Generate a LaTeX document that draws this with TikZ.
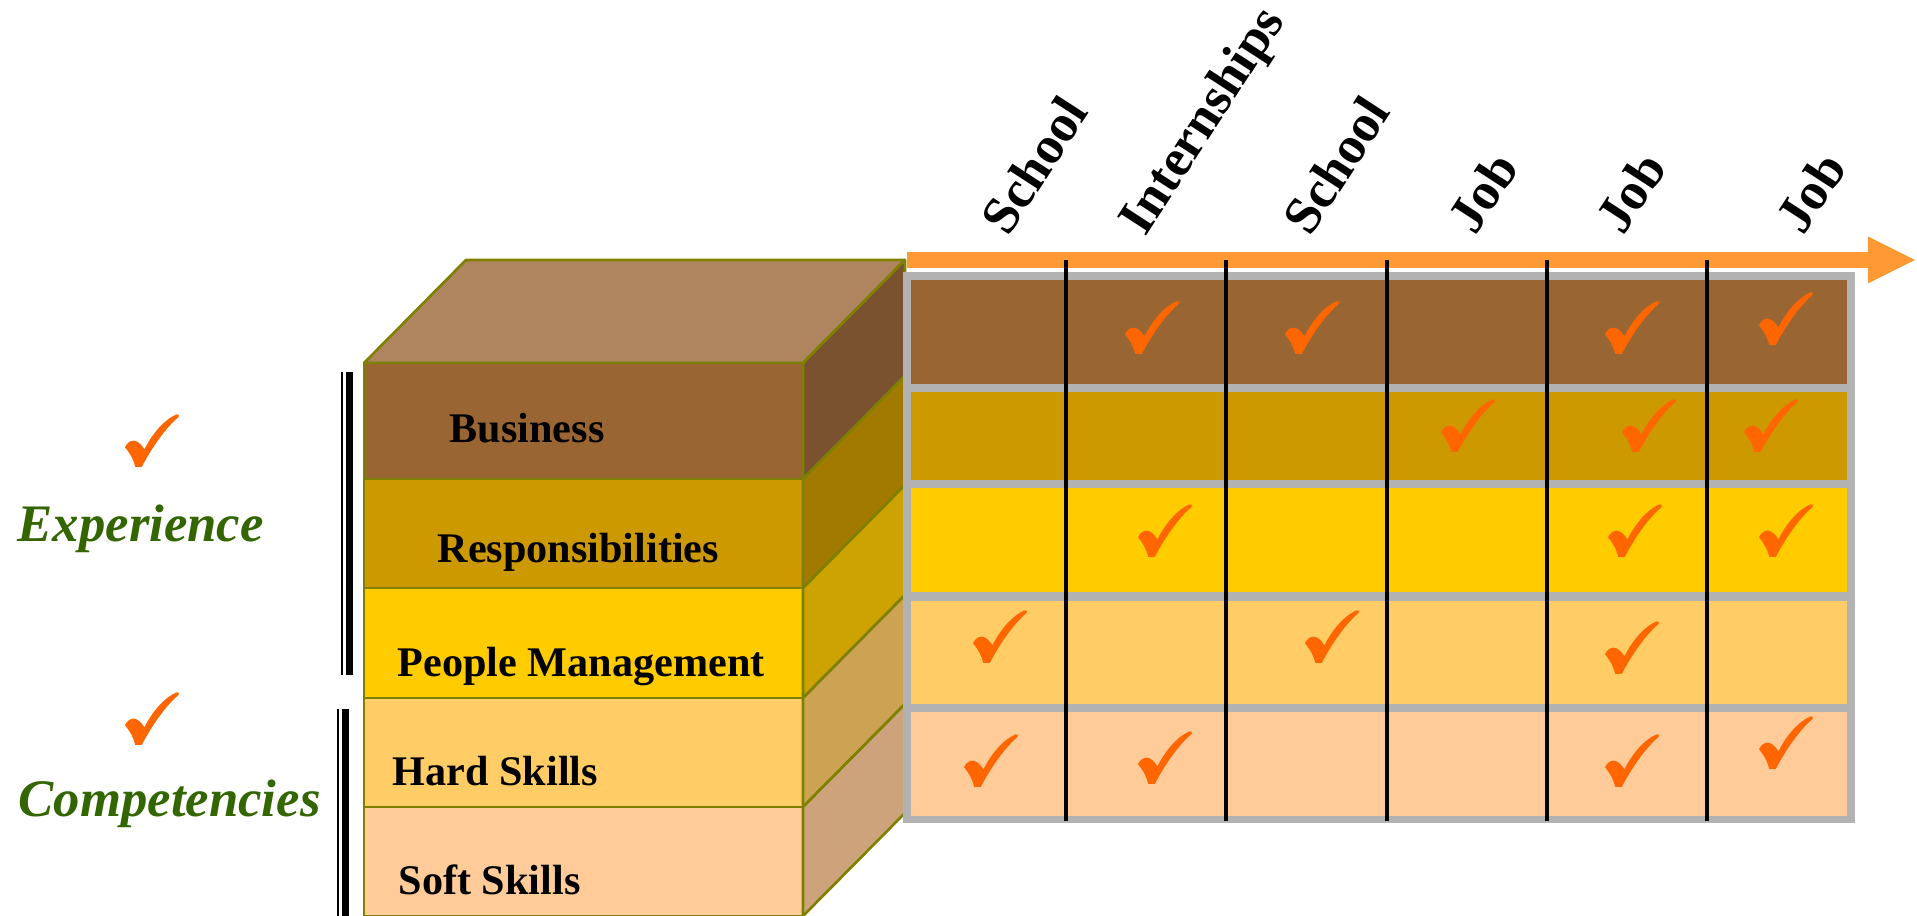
\documentclass[tikz,border=0pt]{standalone}
\usepackage{fontspec}
\setmainfont{Liberation Serif}
\usetikzlibrary{arrows.meta, positioning}
\definecolor{bizfront}{HTML}{996633}
\definecolor{bizside}{HTML}{7A5230}
\definecolor{biztop}{HTML}{AE855F}
\definecolor{respfront}{HTML}{CC9900}
\definecolor{respside}{HTML}{A37A00}
\definecolor{pmfront}{HTML}{FFCC00}
\definecolor{pmside}{HTML}{CCA300}
\definecolor{hardfront}{HTML}{FFCC66}
\definecolor{hardside}{HTML}{CCA352}
\definecolor{softfront}{HTML}{FFCC99}
\definecolor{softside}{HTML}{CCA37A}
\definecolor{edgeolive}{HTML}{808000}
\definecolor{framegray}{HTML}{B2B2B2}
\definecolor{axisorange}{HTML}{FF9933}
\definecolor{tickorange}{HTML}{FF6600}
\definecolor{groupgreen}{HTML}{336600}
\tikzset{
  face/.style={draw=edgeolive, line width=0.75pt, line join=round},
  divider/.style={draw=black, line width=0.04cm},
  timeline/.style={draw=axisorange, line width=0.16cm,
    -{Triangle[length=0.47cm, width=0.47cm, line width=0pt]}},
  bar/.style={draw=black, line cap=butt},
  layertext/.style={anchor=base west, inner sep=0pt,
    font=\bfseries\fontsize{12}{14}\selectfont},
  phasetext/.style={anchor=base west, inner sep=0pt, rotate=57,
    font=\bfseries\fontsize{15}{18}\selectfont},
  groupname/.style={anchor=base west, inner sep=0pt, text=groupgreen,
    font=\bfseries\itshape\fontsize{15}{18}\selectfont},
  tick/.pic={
    \fill[tickorange, x=0.54cm, y=0.52cm] (0,0.38)
      .. controls (0.08,0.54) and (0.22,0.57) .. (0.36,0.34)
      .. controls (0.5,0.64) and (0.74,0.92) .. (0.95,1.01)
      .. controls (0.99,1.03) and (1.02,0.99) .. (0.99,0.96)
      .. controls (0.76,0.76) and (0.5,0.38) .. (0.31,0)
      -- (0.19,0) .. controls (0.14,0.2) and (0.06,0.3) .. cycle;
  }
}

\begin{document}
\begin{tikzpicture}[x=0.01cm, y=-0.01cm]
 \useasboundingbox (0,0) rectangle (1917,916);
 % cube of layers
 \draw[face, fill=biztop] (364,363) -- (466,260) -- (905,260) -- (803,363) -- cycle;
 \draw[face, fill=bizfront] (364,363) rectangle (803,479);
 \draw[face, fill=bizside] (803,363) -- (905,260) -- (905,376) -- (803,479) -- cycle;
 \draw[face, fill=respfront] (364,479) rectangle (803,588);
 \draw[face, fill=respside] (803,479) -- (905,376) -- (905,485) -- (803,588) -- cycle;
 \draw[face, fill=pmfront] (364,588) rectangle (803,698);
 \draw[face, fill=pmside] (803,588) -- (905,485) -- (905,595) -- (803,698) -- cycle;
 \draw[face, fill=hardfront] (364,698) rectangle (803,807);
 \draw[face, fill=hardside] (803,698) -- (905,595) -- (905,704) -- (803,807) -- cycle;
 \draw[face, fill=softfront] (364,807) rectangle (803,916);
 \draw[face, fill=softside] (803,807) -- (905,704) -- (905,813) -- (803,916) -- cycle;

 \node[layertext] (business) at (449,443) {Business};
 \node[layertext] (resp) at (437,563) {Responsibilities};
 \node[layertext] (people) at (397,677) {People Management};
 \node[layertext] (hard) at (392,786) {Hard Skills};
 \node[layertext] (soft) at (398,895) {Soft Skills};

 % grid
 \fill[framegray] (903,272) rectangle (1855,823);
 \fill[bizfront] (911,280) rectangle (1847,384);
 \fill[respfront] (911,392) rectangle (1847,480);
 \fill[pmfront] (911,488) rectangle (1847,592);
 \fill[hardfront] (911,601) rectangle (1847,704);
 \fill[softfront] (911,712) rectangle (1847,816);

 % time axis
 \coordinate (tl start) at (907,260);
 \coordinate (tl end) at (1915,260);
 \draw[timeline] (tl start) -- (tl end);

 \draw[divider] (1066,260) -- (1066,821);
 \draw[divider] (1226,260) -- (1226,821);
 \draw[divider] (1387,260) -- (1387,821);
 \draw[divider] (1547,260) -- (1547,821);
 \draw[divider] (1707,260) -- (1707,821);

 \node[phasetext] (school a) at (1008,238) {School};
 \node[phasetext] (intern) at (1145,238) {Internships};
 \node[phasetext] (school b) at (1310,238) {School};
 \node[phasetext] (job a) at (1475,237) {Job};
 \node[phasetext] (job b) at (1623,237) {Job};
 \node[phasetext] (job c) at (1803,237) {Job};

 % ticks
 \pic at (1125,354) {tick};
 \pic at (1285,354) {tick};
 \pic at (1605,354) {tick};
 \pic at (1759,345) {tick};
 \pic at (1441,452) {tick};
 \pic at (1622,452) {tick};
 \pic at (1744,452) {tick};
 \pic at (1138,557) {tick};
 \pic at (1608,557) {tick};
 \pic at (1759,557) {tick};
 \pic at (973,663) {tick};
 \pic at (1305,663) {tick};
 \pic at (1605,674) {tick};
 \pic at (964,787) {tick};
 \pic at (1138,784) {tick};
 \pic at (1605,787) {tick};
 \pic at (1759,769) {tick};

 % groups
 \draw[bar, line width=0.025cm] (342,372) -- (342,675);
 \draw[bar, line width=0.07cm] (349.5,372) -- (349.5,675);
 \draw[bar, line width=0.025cm] (338,709) -- (338,916);
 \draw[bar, line width=0.07cm] (345.5,709) -- (345.5,916);
 \pic at (125,467) {tick};
 \node[groupname] (experience) at (17,542) {Experience};
 \pic at (125,745) {tick};
 \node[groupname] (competencies) at (18,817) {Competencies};
\end{tikzpicture}
\end{document}
